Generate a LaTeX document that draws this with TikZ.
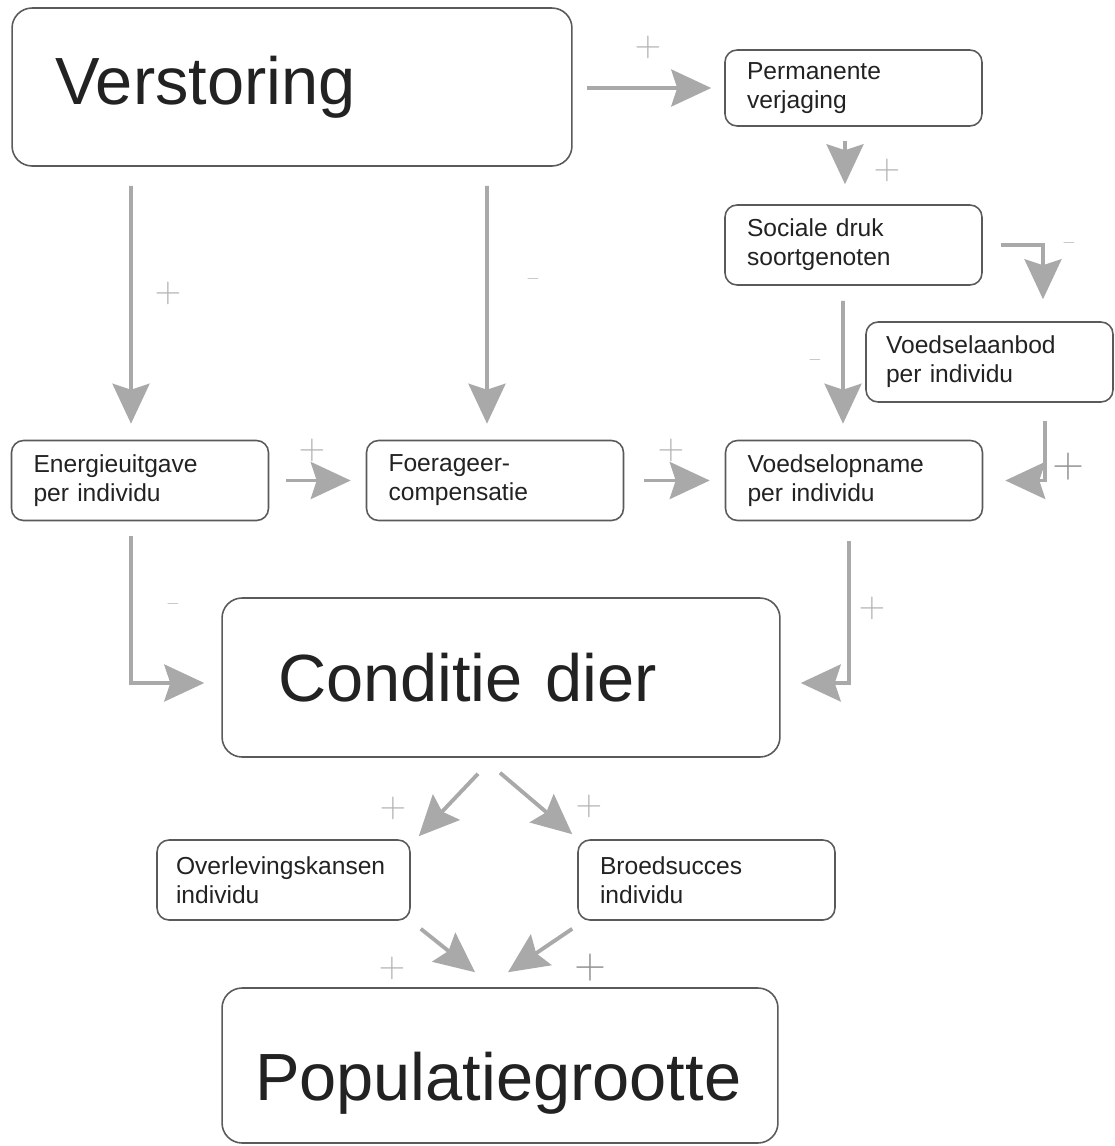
\documentclass[tikz,border=0pt]{standalone}
\usepackage{fontspec}
\setmainfont{Liberation Sans}
\usetikzlibrary{arrows.meta}
\definecolor{pijlgrijs}{HTML}{A9A9A9}
\definecolor{randgrijs}{HTML}{5A5A5A}
\definecolor{tekstzwart}{HTML}{222222}
\tikzset{
  vak/.style={draw=randgrijs, line width=0.9pt, rounded corners=0.24cm, text=tekstzwart, align=left},
  klein/.style={vak, text width=4.26cm, inner xsep=0.44cm, minimum height=1.6cm, font=\fontsize{14}{16.5}\selectfont},
  groot/.style={vak, rounded corners=0.4cm, minimum height=3.16cm, font=\fontsize{38}{44}\selectfont},
  pijl/.style={draw=pijlgrijs, line width=2.2pt, -{Stealth[length=0.8cm, width=0.74cm, inset=0.12cm]}},
  teken/.style={text=gray!60, font=\fontsize{20}{20}\selectfont, inner sep=0pt},
  min/.style={text=gray!60, font=\fontsize{10}{10}\selectfont, inner sep=0pt},
  tekengroot/.style={text=gray!85, font=\fontsize{24}{24}\selectfont, inner sep=0pt},
}

\begin{document}
\begin{tikzpicture}[x=0.02cm, y=-0.02cm]
\useasboundingbox (0,0) rectangle (1115,1146);

\node[groot, text width=9.48cm, inner xsep=0.86cm] (verstoring) at (292,87) {Verstoring};
\node[klein, minimum height=1.52cm] (verjaging) at (853.5,88) {Permanente\\verjaging};
\node[klein] (druk) at (853.5,245) {Sociale druk\\soortgenoten};
\node[klein, text width=4.14cm, inner xsep=0.4cm] (aanbod) at (989.5,362) {Voedselaanbod\\per individu};
\node[klein] (uitgave) at (140,480.5) {Energieuitgave\\per individu};
\node[klein] (compensatie) at (495,480.5) {Foerageer-\\compensatie};
\node[klein] (opname) at (854,480.5) {Voedselopname\\per individu};
\node[groot, text width=8.92cm, inner xsep=1.12cm, minimum height=3.18cm] (conditie) at (501,677.5) {Conditie dier};
\node[klein, text width=4.3cm, inner xsep=0.38cm] (overleving) at (283.5,880) {Overlevingskansen\\individu};
\node[klein] (broedsucces) at (706.5,880) {Broedsucces\\individu};
\node[groot, text width=9.8cm, inner xsep=0.66cm, minimum height=3.1cm, text height=1.7cm, text depth=0.3cm] (populatie) at (500,1065.5) {Populatiegrootte};

\draw[pijl, shorten <=0.28cm, shorten >=0.26cm] (verstoring.east |- verjaging.west) -- (verjaging.west);
\draw[pijl, shorten <=0.28cm, shorten >=0.4cm] ([xshift=-0.17cm]verjaging.south) -- ([xshift=-0.17cm]druk.north);
\draw[pijl, shorten <=0.36cm, shorten >=0.44cm] (druk.east) -| ([xshift=1.07cm]aanbod.north);
\draw[pijl, shorten <=0.3cm, shorten >=0.32cm] ([xshift=-0.21cm]druk.south) -- ([xshift=-0.22cm]opname.north);
\draw[pijl, shorten <=0.36cm, shorten >=0.44cm] ([xshift=1.11cm]aanbod.south) |- (opname.east);
\draw[pijl, shorten <=0.38cm, shorten >=0.32cm] ([xshift=-3.22cm]verstoring.south) -- ([xshift=-0.18cm]uitgave.north);
\draw[pijl, shorten <=0.38cm, shorten >=0.32cm] ([xshift=3.9cm]verstoring.south) -- ([xshift=-0.16cm]compensatie.north);
\draw[pijl, shorten <=0.34cm, shorten >=0.3cm] (uitgave.east) -- (compensatie.west);
\draw[pijl, shorten <=0.4cm, shorten >=0.3cm] (compensatie.east) -- (opname.west);
\draw[pijl, shorten <=0.3cm, shorten >=0.34cm] ([xshift=-0.18cm]uitgave.south) |- ([yshift=-0.11cm]conditie.west);
\draw[pijl, shorten <=0.4cm, shorten >=0.4cm] ([xshift=-0.1cm]opname.south) |- ([yshift=-0.11cm]conditie.east);
\draw[pijl] ([xshift=-0.46cm, yshift=-0.32cm]conditie.south) -- ([xshift=0.16cm, yshift=0.06cm]overleving.north east);
\draw[pijl] ([xshift=-0.02cm, yshift=-0.3cm]conditie.south) -- ([xshift=-0.1cm, yshift=0.1cm]broedsucces.north west);
\draw[pijl] ([xshift=0.2cm, yshift=-0.16cm]overleving.south east) -- ([xshift=-0.5cm, yshift=0.3cm]populatie.north);
\draw[pijl] ([xshift=-0.1cm, yshift=-0.16cm]broedsucces.south west) -- ([xshift=0.16cm, yshift=0.3cm]populatie.north);

\node[teken] (t-verjaging) at (648,47) {$+$};
\node[teken] (t-druk) at (887,170) {$+$};
\node[min] (t-aanbod) at (1069,243) {$-$};
\node[min] (t-opname) at (815,360) {$-$};
\node[tekengroot] (t-aanbodopname) at (1068,467) {$+$};
\node[teken] (t-uitgave) at (168,293) {$+$};
\node[min] (t-compensatie) at (533,279) {$-$};
\node[teken] (t-uitgavecomp) at (312,450) {$+$};
\node[teken] (t-compopname) at (671,450) {$+$};
\node[min] (t-uitgavecond) at (173,604) {$-$};
\node[teken] (t-opnamecond) at (872,608) {$+$};
\node[teken] (t-overleving) at (393,808) {$+$};
\node[teken] (t-broedsucces) at (589,806) {$+$};
\node[teken] (t-overlevingpop) at (392,968) {$+$};
\node[tekengroot] (t-broedpop) at (590,968) {$+$};
\end{tikzpicture}
\end{document}
